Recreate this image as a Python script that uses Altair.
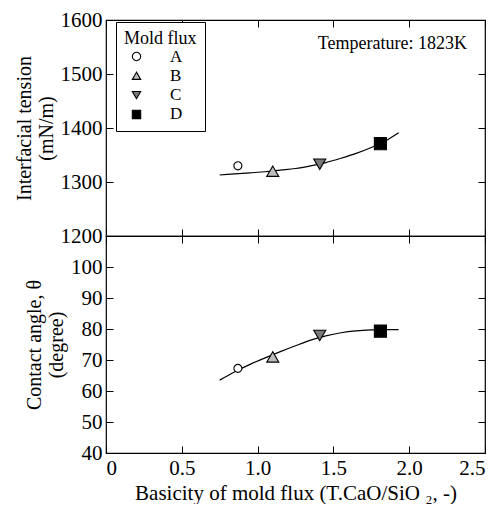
import altair as alt
import pandas as pd

# ---- data ----
flux = ["A", "B", "C", "D"]
basicity = [0.87, 1.10, 1.41, 1.81]
tension = [1330, 1320, 1333, 1371]
angle = [67.3, 71.0, 77.9, 79.3]

curve_x = [0.75, 0.85, 0.95, 1.05, 1.15, 1.25, 1.35, 1.45, 1.55, 1.65, 1.75, 1.85, 1.93]
curve_tension = [1313, 1315, 1317, 1319, 1322, 1325, 1330, 1336, 1344, 1353, 1364, 1377, 1391]
curve_angle = [63.5, 66.2, 68.6, 70.7, 72.7, 74.6, 76.4, 77.8, 78.8, 79.4, 79.7, 79.8, 79.8]

x_ticks = [0, 0.5, 1.0, 1.5, 2.0, 2.5]
ytop_ticks = [1200, 1300, 1400, 1500, 1600]
ybot_ticks = [40, 50, 60, 70, 80, 90, 100]

pts = pd.DataFrame({"flux": flux, "basicity": basicity, "tension": tension, "angle": angle})
crv = pd.DataFrame({"x": curve_x, "tension": curve_tension, "angle": curve_angle})

FONT = "Liberation Serif"
W = 379
xs = alt.Scale(domain=[0, 2.5], nice=False, zero=False)
ys_top = alt.Scale(domain=[1200, 1600], nice=False, zero=False)
ys_bot = alt.Scale(domain=[40, 110], nice=False, zero=False)

shape_scale = alt.Scale(domain=flux, range=["circle", "triangle-up", "triangle-down", "square"])
fill_scale = alt.Scale(domain=flux, range=["white", "#bdbdbd", "#7a7a7a", "black"])
stroke_scale = alt.Scale(domain=flux, range=["black", "black", "black", "black"])


def axis(orient, values, labels=False, title=None, label_expr=None, title_size=20):
    kw = dict(orient=orient, values=values, tickSize=7, offset=-7, domain=False,
              grid=False, labels=labels, ticks=True, tickColor="black", tickWidth=1,
              labelFont=FONT, titleFont=FONT, labelFontSize=21, titleFontSize=title_size,
              labelColor="black", titleColor="black", titleFontWeight="normal",
              labelPadding=4, titlePadding=4, titleLineHeight=22)
    kw["title"] = title if title is not None else ""
    if label_expr is not None:
        kw["labelExpr"] = label_expr
    return alt.Axis(**kw)


xlab = "datum.value == 0 ? '0' : format(datum.value, '.1f')"
ylab = "format(datum.value, 'd')"

EM = "\u2003"
legend = alt.Legend(title=EM + "Mold flux" + "\u2002", orient="none", legendX=10, legendY=2,
                    strokeColor="black", fillColor="white", padding=8, titleFontSize=18,
                    labelFontSize=17, titleFont=FONT, labelFont=FONT, titleFontWeight="normal",
                    symbolSize=70, symbolOffset=4, labelOffset=25, rowPadding=1.3,
                    titlePadding=0, titleAnchor="start", titleColor="black", labelColor="black",
                    symbolStrokeWidth=1.1)


def panel(field, yscale, yvals, ytitle, bottom_labels, show_legend, height):
    line = alt.Chart(crv).mark_line(color="black", strokeWidth=1.2, interpolate="monotone").encode(
        x=alt.X("x:Q", scale=xs,
                axis=axis("bottom", x_ticks, labels=bottom_labels,
                          title="Basicity of mold flux  (T.CaO/SiO ₂, -)" if bottom_labels else None,
                          label_expr=xlab if bottom_labels else None, title_size=21)),
        y=alt.Y(f"{field}:Q", scale=yscale,
                axis=axis("left", yvals, labels=True, title=ytitle, label_expr=ylab)),
    )
    lg = legend if show_legend else None
    enc = dict(
        shape=alt.Shape("flux:N", scale=shape_scale, legend=lg),
        fill=alt.Fill("flux:N", scale=fill_scale, legend=lg),
        stroke=alt.Stroke("flux:N", scale=stroke_scale, legend=lg),
    )
    circ = alt.Chart(pts).transform_filter("datum.flux == 'A'").mark_point(
        size=65, strokeWidth=1.1, opacity=1, fillOpacity=1).encode(
        x=alt.X("basicity:Q", scale=xs, axis=axis("top", x_ticks)),
        y=alt.Y(f"{field}:Q", scale=yscale, axis=axis("right", yvals)),
        **enc,
    )
    others = alt.Chart(pts).transform_filter("datum.flux != 'A'").mark_point(
        size=145, strokeWidth=1.1, opacity=1, fillOpacity=1).encode(
        x=alt.X("basicity:Q", scale=xs, axis=None),
        y=alt.Y(f"{field}:Q", scale=yscale, axis=None),
        **enc,
    )
    layers = [line, circ, others]
    if show_legend:
        txt = alt.Chart(pd.DataFrame({"t": ["Temperature: 1823K"]})).mark_text(
            align="right", baseline="middle", font=FONT, fontSize=18, color="black").encode(
            text="t:N", x=alt.value(W - 18), y=alt.value(24))
        layers.append(txt)
    return alt.layer(*layers).resolve_axis(x="independent", y="independent").properties(
        width=W, height=height)


top = panel("tension", ys_top, ytop_ticks, ["Interfacial tension", "(mN/m)"], False, True, 216)
bottom = panel("angle", ys_bot, ybot_ticks, ["Contact angle,  θ", "(degree)"], True, False, 217)

chart = alt.vconcat(top, bottom, spacing=0, bounds="flush").resolve_legend(
    shape="independent", fill="independent", stroke="independent").properties(
    padding={"left": 5, "top": 0, "right": 0, "bottom": 0}
).configure_view(stroke="black", strokeWidth=1.2)

chart.save("out.html", embed_options={"renderer": "svg", "actions": False})
